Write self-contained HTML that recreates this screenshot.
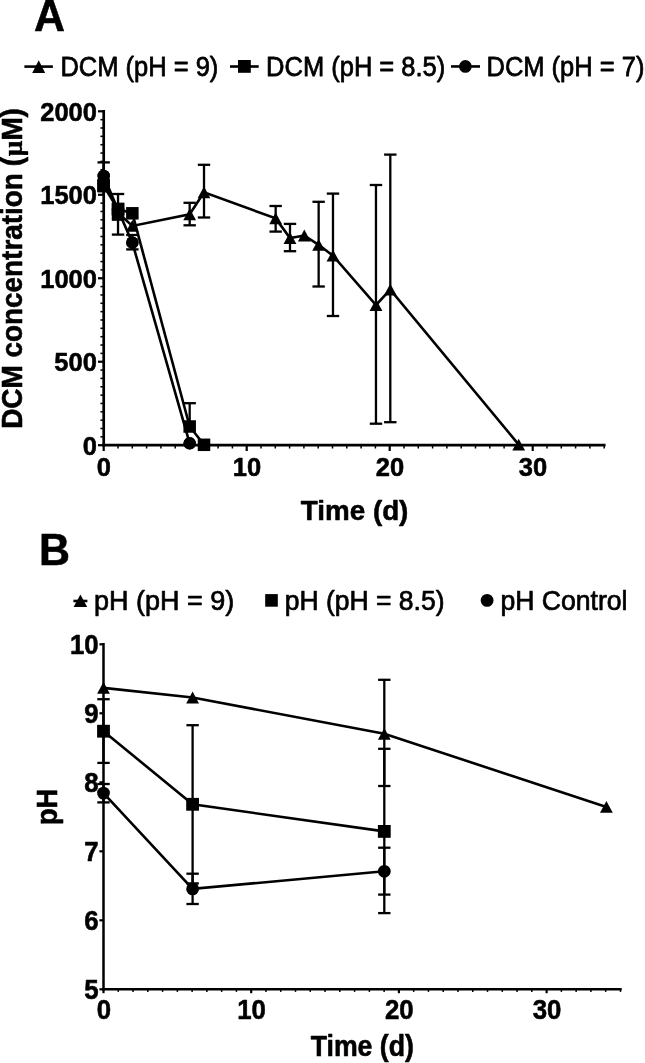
<!DOCTYPE html>
<html><head><meta charset="utf-8"><title>Figure</title>
<style>
html,body{margin:0;padding:0;background:#fff;}
body{width:645px;height:1063px;overflow:hidden;font-family:"Liberation Sans",sans-serif;}
svg{display:block;font-family:"Liberation Sans",sans-serif;filter:blur(0.35px);}
</style></head><body>
<svg width="645" height="1063" viewBox="0 0 645 1063" fill="#000" stroke="#000" stroke-linecap="butt">
<rect x="0" y="0" width="645" height="1063" fill="#fff" stroke="none"/>
<text transform="translate(34.00,30.80) scale(1,1.04)" font-size="42.9" font-weight="bold" text-anchor="start" stroke="#000" stroke-width="0.55" stroke-linejoin="round">A</text>
<line x1="24.40" y1="66.60" x2="52.90" y2="66.60" stroke-width="2.6"/>
<polygon points="38.70,60.30 45.20,72.90 32.20,72.90" stroke="none"/>
<text transform="translate(60.40,75.50) scale(1,1.09)" font-size="25.5" font-weight="normal" text-anchor="start" stroke="#000" stroke-width="0.7" stroke-linejoin="round">DCM (pH = 9)</text>
<line x1="230.00" y1="66.50" x2="258.70" y2="66.50" stroke-width="2.6"/>
<rect x="238.00" y="60.00" width="12.8" height="12.8" stroke="none"/>
<text transform="translate(266.10,75.50) scale(1,1.09)" font-size="25.5" font-weight="normal" text-anchor="start" stroke="#000" stroke-width="0.7" stroke-linejoin="round">DCM (pH = 8.5)</text>
<line x1="451.00" y1="66.45" x2="480.00" y2="66.45" stroke-width="2.6"/>
<circle cx="465.40" cy="66.45" r="6.35" stroke="none"/>
<text transform="translate(486.50,75.50) scale(1,1.09)" font-size="25.5" font-weight="normal" text-anchor="start" stroke="#000" stroke-width="0.7" stroke-linejoin="round">DCM (pH = 7)</text>
<line x1="103.70" y1="109.95" x2="103.70" y2="446.55" stroke-width="2.7"/>
<line x1="102.35" y1="445.20" x2="605.55" y2="445.20" stroke-width="2.7"/>
<line x1="98.00" y1="445.20" x2="103.70" y2="445.20" stroke-width="2.2"/>
<line x1="100.40" y1="436.85" x2="103.70" y2="436.85" stroke-width="1.5"/>
<line x1="100.40" y1="428.50" x2="103.70" y2="428.50" stroke-width="1.5"/>
<line x1="100.40" y1="420.16" x2="103.70" y2="420.16" stroke-width="1.5"/>
<line x1="100.40" y1="411.81" x2="103.70" y2="411.81" stroke-width="1.5"/>
<line x1="100.40" y1="403.46" x2="103.70" y2="403.46" stroke-width="1.5"/>
<line x1="100.40" y1="395.12" x2="103.70" y2="395.12" stroke-width="1.5"/>
<line x1="100.40" y1="386.77" x2="103.70" y2="386.77" stroke-width="1.5"/>
<line x1="100.40" y1="378.42" x2="103.70" y2="378.42" stroke-width="1.5"/>
<line x1="100.40" y1="370.07" x2="103.70" y2="370.07" stroke-width="1.5"/>
<line x1="98.00" y1="361.73" x2="103.70" y2="361.73" stroke-width="2.2"/>
<line x1="100.40" y1="353.38" x2="103.70" y2="353.38" stroke-width="1.5"/>
<line x1="100.40" y1="345.03" x2="103.70" y2="345.03" stroke-width="1.5"/>
<line x1="100.40" y1="336.68" x2="103.70" y2="336.68" stroke-width="1.5"/>
<line x1="100.40" y1="328.33" x2="103.70" y2="328.33" stroke-width="1.5"/>
<line x1="100.40" y1="319.99" x2="103.70" y2="319.99" stroke-width="1.5"/>
<line x1="100.40" y1="311.64" x2="103.70" y2="311.64" stroke-width="1.5"/>
<line x1="100.40" y1="303.29" x2="103.70" y2="303.29" stroke-width="1.5"/>
<line x1="100.40" y1="294.94" x2="103.70" y2="294.94" stroke-width="1.5"/>
<line x1="100.40" y1="286.60" x2="103.70" y2="286.60" stroke-width="1.5"/>
<line x1="98.00" y1="278.25" x2="103.70" y2="278.25" stroke-width="2.2"/>
<line x1="100.40" y1="269.90" x2="103.70" y2="269.90" stroke-width="1.5"/>
<line x1="100.40" y1="261.56" x2="103.70" y2="261.56" stroke-width="1.5"/>
<line x1="100.40" y1="253.21" x2="103.70" y2="253.21" stroke-width="1.5"/>
<line x1="100.40" y1="244.86" x2="103.70" y2="244.86" stroke-width="1.5"/>
<line x1="100.40" y1="236.51" x2="103.70" y2="236.51" stroke-width="1.5"/>
<line x1="100.40" y1="228.16" x2="103.70" y2="228.16" stroke-width="1.5"/>
<line x1="100.40" y1="219.82" x2="103.70" y2="219.82" stroke-width="1.5"/>
<line x1="100.40" y1="211.47" x2="103.70" y2="211.47" stroke-width="1.5"/>
<line x1="100.40" y1="203.12" x2="103.70" y2="203.12" stroke-width="1.5"/>
<line x1="98.00" y1="194.78" x2="103.70" y2="194.78" stroke-width="2.2"/>
<line x1="100.40" y1="186.43" x2="103.70" y2="186.43" stroke-width="1.5"/>
<line x1="100.40" y1="178.08" x2="103.70" y2="178.08" stroke-width="1.5"/>
<line x1="100.40" y1="169.73" x2="103.70" y2="169.73" stroke-width="1.5"/>
<line x1="100.40" y1="161.38" x2="103.70" y2="161.38" stroke-width="1.5"/>
<line x1="100.40" y1="153.04" x2="103.70" y2="153.04" stroke-width="1.5"/>
<line x1="100.40" y1="144.69" x2="103.70" y2="144.69" stroke-width="1.5"/>
<line x1="100.40" y1="136.34" x2="103.70" y2="136.34" stroke-width="1.5"/>
<line x1="100.40" y1="128.00" x2="103.70" y2="128.00" stroke-width="1.5"/>
<line x1="100.40" y1="119.65" x2="103.70" y2="119.65" stroke-width="1.5"/>
<line x1="98.00" y1="111.30" x2="103.70" y2="111.30" stroke-width="2.2"/>
<text transform="translate(96.90,454.60) scale(1,1.04)" font-size="25.5" font-weight="bold" text-anchor="end" stroke="#000" stroke-width="0.55" stroke-linejoin="round">0</text>
<text transform="translate(96.90,371.12) scale(1,1.04)" font-size="25.5" font-weight="bold" text-anchor="end" stroke="#000" stroke-width="0.55" stroke-linejoin="round">500</text>
<text transform="translate(96.90,287.65) scale(1,1.04)" font-size="25.5" font-weight="bold" text-anchor="end" stroke="#000" stroke-width="0.55" stroke-linejoin="round">1000</text>
<text transform="translate(96.90,204.18) scale(1,1.04)" font-size="25.5" font-weight="bold" text-anchor="end" stroke="#000" stroke-width="0.55" stroke-linejoin="round">1500</text>
<text transform="translate(96.90,120.70) scale(1,1.04)" font-size="25.5" font-weight="bold" text-anchor="end" stroke="#000" stroke-width="0.55" stroke-linejoin="round">2000</text>
<line x1="103.70" y1="445.20" x2="103.70" y2="451.00" stroke-width="2.2"/>
<line x1="118.00" y1="445.20" x2="118.00" y2="448.50" stroke-width="1.5"/>
<line x1="132.30" y1="445.20" x2="132.30" y2="448.50" stroke-width="1.5"/>
<line x1="146.60" y1="445.20" x2="146.60" y2="448.50" stroke-width="1.5"/>
<line x1="160.90" y1="445.20" x2="160.90" y2="448.50" stroke-width="1.5"/>
<line x1="175.20" y1="445.20" x2="175.20" y2="448.50" stroke-width="1.5"/>
<line x1="189.50" y1="445.20" x2="189.50" y2="448.50" stroke-width="1.5"/>
<line x1="203.80" y1="445.20" x2="203.80" y2="448.50" stroke-width="1.5"/>
<line x1="218.10" y1="445.20" x2="218.10" y2="448.50" stroke-width="1.5"/>
<line x1="232.40" y1="445.20" x2="232.40" y2="448.50" stroke-width="1.5"/>
<line x1="246.70" y1="445.20" x2="246.70" y2="451.00" stroke-width="2.2"/>
<line x1="261.00" y1="445.20" x2="261.00" y2="448.50" stroke-width="1.5"/>
<line x1="275.30" y1="445.20" x2="275.30" y2="448.50" stroke-width="1.5"/>
<line x1="289.60" y1="445.20" x2="289.60" y2="448.50" stroke-width="1.5"/>
<line x1="303.90" y1="445.20" x2="303.90" y2="448.50" stroke-width="1.5"/>
<line x1="318.20" y1="445.20" x2="318.20" y2="448.50" stroke-width="1.5"/>
<line x1="332.50" y1="445.20" x2="332.50" y2="448.50" stroke-width="1.5"/>
<line x1="346.80" y1="445.20" x2="346.80" y2="448.50" stroke-width="1.5"/>
<line x1="361.10" y1="445.20" x2="361.10" y2="448.50" stroke-width="1.5"/>
<line x1="375.40" y1="445.20" x2="375.40" y2="448.50" stroke-width="1.5"/>
<line x1="389.70" y1="445.20" x2="389.70" y2="451.00" stroke-width="2.2"/>
<line x1="404.00" y1="445.20" x2="404.00" y2="448.50" stroke-width="1.5"/>
<line x1="418.30" y1="445.20" x2="418.30" y2="448.50" stroke-width="1.5"/>
<line x1="432.60" y1="445.20" x2="432.60" y2="448.50" stroke-width="1.5"/>
<line x1="446.90" y1="445.20" x2="446.90" y2="448.50" stroke-width="1.5"/>
<line x1="461.20" y1="445.20" x2="461.20" y2="448.50" stroke-width="1.5"/>
<line x1="475.50" y1="445.20" x2="475.50" y2="448.50" stroke-width="1.5"/>
<line x1="489.80" y1="445.20" x2="489.80" y2="448.50" stroke-width="1.5"/>
<line x1="504.10" y1="445.20" x2="504.10" y2="448.50" stroke-width="1.5"/>
<line x1="518.40" y1="445.20" x2="518.40" y2="448.50" stroke-width="1.5"/>
<line x1="532.70" y1="445.20" x2="532.70" y2="451.00" stroke-width="2.2"/>
<line x1="547.00" y1="445.20" x2="547.00" y2="448.50" stroke-width="1.5"/>
<line x1="561.30" y1="445.20" x2="561.30" y2="448.50" stroke-width="1.5"/>
<line x1="575.60" y1="445.20" x2="575.60" y2="448.50" stroke-width="1.5"/>
<line x1="589.90" y1="445.20" x2="589.90" y2="448.50" stroke-width="1.5"/>
<line x1="604.20" y1="445.20" x2="604.20" y2="448.50" stroke-width="1.5"/>
<text transform="translate(103.90,476.30) scale(1,1.04)" font-size="25.5" font-weight="bold" text-anchor="middle" stroke="#000" stroke-width="0.55" stroke-linejoin="round">0</text>
<text transform="translate(246.90,476.30) scale(1,1.04)" font-size="25.5" font-weight="bold" text-anchor="middle" stroke="#000" stroke-width="0.55" stroke-linejoin="round">10</text>
<text transform="translate(389.90,476.30) scale(1,1.04)" font-size="25.5" font-weight="bold" text-anchor="middle" stroke="#000" stroke-width="0.55" stroke-linejoin="round">20</text>
<text transform="translate(532.90,476.30) scale(1,1.04)" font-size="25.5" font-weight="bold" text-anchor="middle" stroke="#000" stroke-width="0.55" stroke-linejoin="round">30</text>
<text transform="translate(354.60,519.60) scale(1,1.02)" font-size="27.8" font-weight="bold" text-anchor="middle" stroke="#000" stroke-width="0.55" stroke-linejoin="round">Time (d)</text>
<text transform="translate(22.1,428.8) rotate(-90) scale(1,1.04)" font-size="27.9" font-weight="bold" text-anchor="start" stroke="#000" stroke-width="0.55" stroke-linejoin="round">DCM concentration</text>
<text transform="translate(22.1,166.3) rotate(-90) scale(1,1.04)" font-size="27.9" font-weight="bold" text-anchor="start" stroke="#000" stroke-width="0.55" stroke-linejoin="round">(</text>
<text transform="translate(22.1,156.3) rotate(-90) scale(1,1.0)" font-family="Liberation Serif" font-size="27.5" font-weight="bold" text-anchor="start" stroke="#000" stroke-width="0.3" stroke-linejoin="round">μ</text>
<text transform="translate(22.1,140.5) rotate(-90) scale(1,1.04)" font-size="27.9" font-weight="bold" text-anchor="start" stroke="#000" stroke-width="0.55" stroke-linejoin="round">M</text>
<text transform="translate(22.1,117.5) rotate(-90) scale(1,1.04)" font-size="27.9" font-weight="bold" text-anchor="start" stroke="#000" stroke-width="0.55" stroke-linejoin="round">)</text>
<polyline points="103.70,176.00 118.03,210.00 132.36,242.70 189.68,443.30" fill="none" stroke-width="2.6" stroke-linejoin="miter"/>
<polyline points="103.70,186.00 118.03,209.10 132.36,213.30 189.68,426.50 204.01,444.80" fill="none" stroke-width="2.6" stroke-linejoin="miter"/>
<polyline points="103.70,178.00 118.03,213.00 132.36,225.90 189.68,214.30 204.01,192.30 275.66,218.40 289.99,238.00 304.32,235.50 318.65,244.80 332.98,255.70 375.97,305.00 390.30,289.60 518.70,444.60" fill="none" stroke-width="2.6" stroke-linejoin="miter"/>
<line x1="103.70" y1="162.40" x2="103.70" y2="194.00" stroke-width="2.3"/>
<line x1="97.50" y1="162.40" x2="109.90" y2="162.40" stroke-width="2.3"/>
<line x1="118.03" y1="194.00" x2="118.03" y2="234.60" stroke-width="2.3"/>
<line x1="111.83" y1="194.00" x2="124.23" y2="194.00" stroke-width="2.3"/>
<line x1="111.83" y1="234.60" x2="124.23" y2="234.60" stroke-width="2.3"/>
<line x1="132.36" y1="235.00" x2="132.36" y2="249.40" stroke-width="2.3"/>
<line x1="126.16" y1="235.00" x2="138.56" y2="235.00" stroke-width="2.3"/>
<line x1="126.16" y1="249.40" x2="138.56" y2="249.40" stroke-width="2.3"/>
<line x1="189.68" y1="403.20" x2="189.68" y2="430.00" stroke-width="2.3"/>
<line x1="183.48" y1="403.20" x2="195.88" y2="403.20" stroke-width="2.3"/>
<line x1="189.68" y1="202.80" x2="189.68" y2="225.30" stroke-width="2.3"/>
<line x1="183.48" y1="202.80" x2="195.88" y2="202.80" stroke-width="2.3"/>
<line x1="183.48" y1="225.30" x2="195.88" y2="225.30" stroke-width="2.3"/>
<line x1="204.01" y1="164.80" x2="204.01" y2="217.50" stroke-width="2.3"/>
<line x1="197.81" y1="164.80" x2="210.21" y2="164.80" stroke-width="2.3"/>
<line x1="197.81" y1="217.50" x2="210.21" y2="217.50" stroke-width="2.3"/>
<line x1="275.66" y1="206.00" x2="275.66" y2="231.60" stroke-width="2.3"/>
<line x1="269.46" y1="206.00" x2="281.86" y2="206.00" stroke-width="2.3"/>
<line x1="269.46" y1="231.60" x2="281.86" y2="231.60" stroke-width="2.3"/>
<line x1="289.99" y1="223.90" x2="289.99" y2="251.20" stroke-width="2.3"/>
<line x1="283.79" y1="223.90" x2="296.19" y2="223.90" stroke-width="2.3"/>
<line x1="283.79" y1="251.20" x2="296.19" y2="251.20" stroke-width="2.3"/>
<line x1="318.65" y1="201.80" x2="318.65" y2="286.50" stroke-width="2.3"/>
<line x1="312.45" y1="201.80" x2="324.85" y2="201.80" stroke-width="2.3"/>
<line x1="312.45" y1="286.50" x2="324.85" y2="286.50" stroke-width="2.3"/>
<line x1="332.98" y1="193.60" x2="332.98" y2="316.00" stroke-width="2.3"/>
<line x1="326.78" y1="193.60" x2="339.18" y2="193.60" stroke-width="2.3"/>
<line x1="326.78" y1="316.00" x2="339.18" y2="316.00" stroke-width="2.3"/>
<line x1="375.97" y1="185.00" x2="375.97" y2="423.70" stroke-width="2.3"/>
<line x1="369.77" y1="185.00" x2="382.17" y2="185.00" stroke-width="2.3"/>
<line x1="369.77" y1="423.70" x2="382.17" y2="423.70" stroke-width="2.3"/>
<line x1="390.30" y1="154.60" x2="390.30" y2="422.20" stroke-width="2.3"/>
<line x1="384.10" y1="154.60" x2="396.50" y2="154.60" stroke-width="2.3"/>
<line x1="384.10" y1="422.20" x2="396.50" y2="422.20" stroke-width="2.3"/>
<circle cx="103.70" cy="176.00" r="6.2" stroke="none"/>
<circle cx="118.03" cy="210.00" r="6.2" stroke="none"/>
<circle cx="132.36" cy="242.70" r="6.2" stroke="none"/>
<circle cx="189.68" cy="443.30" r="6.2" stroke="none"/>
<polygon points="103.70,172.10 110.10,183.90 97.30,183.90" stroke="none"/>
<polygon points="118.03,207.10 124.43,218.90 111.63,218.90" stroke="none"/>
<polygon points="132.36,220.00 138.76,231.80 125.96,231.80" stroke="none"/>
<polygon points="189.68,208.40 196.08,220.20 183.28,220.20" stroke="none"/>
<polygon points="204.01,186.40 210.41,198.20 197.61,198.20" stroke="none"/>
<polygon points="275.66,212.50 282.06,224.30 269.26,224.30" stroke="none"/>
<polygon points="289.99,232.10 296.39,243.90 283.59,243.90" stroke="none"/>
<polygon points="304.32,229.60 310.72,241.40 297.92,241.40" stroke="none"/>
<polygon points="318.65,238.90 325.05,250.70 312.25,250.70" stroke="none"/>
<polygon points="332.98,249.80 339.38,261.60 326.58,261.60" stroke="none"/>
<polygon points="375.97,299.10 382.37,310.90 369.57,310.90" stroke="none"/>
<polygon points="390.30,283.70 396.70,295.50 383.90,295.50" stroke="none"/>
<polygon points="518.70,438.70 525.10,450.50 512.30,450.50" stroke="none"/>
<rect x="97.45" y="179.75" width="12.5" height="12.5" stroke="none"/>
<rect x="111.78" y="202.85" width="12.5" height="12.5" stroke="none"/>
<rect x="126.11" y="207.05" width="12.5" height="12.5" stroke="none"/>
<rect x="183.43" y="420.25" width="12.5" height="12.5" stroke="none"/>
<rect x="197.76" y="438.55" width="12.5" height="12.5" stroke="none"/>
<circle cx="132.36" cy="242.70" r="6.2" stroke="none"/>
<circle cx="189.68" cy="443.30" r="6.2" stroke="none"/>
<circle cx="103.70" cy="176.00" r="6.2" stroke="none"/>
<rect x="97.45" y="179.75" width="12.5" height="12.5" stroke="none"/>
<rect x="97.45" y="178.65" width="12.5" height="12.5" stroke="none"/>
<rect x="111.78" y="202.75" width="12.5" height="12.5" stroke="none"/>
<rect x="111.78" y="208.35" width="12.5" height="12.5" stroke="none"/>
<text transform="translate(39.00,565.30) scale(1,1.04)" font-size="42.9" font-weight="bold" text-anchor="start" stroke="#000" stroke-width="0.55" stroke-linejoin="round">B</text>
<line x1="73.40" y1="601.00" x2="87.40" y2="601.00" stroke-width="2.6"/>
<polygon points="80.40,594.50 87.20,606.90 73.60,606.90" stroke="none"/>
<text transform="translate(94.00,609.80) scale(1,1.04)" font-size="27.0" font-weight="normal" text-anchor="start" stroke="#000" stroke-width="0.7" stroke-linejoin="round">pH (pH = 9)</text>
<rect x="265.20" y="594.10" width="12.6" height="12.6" stroke="none"/>
<text transform="translate(284.80,609.80) scale(1,1.04)" font-size="26.5" font-weight="normal" text-anchor="start" stroke="#000" stroke-width="0.7" stroke-linejoin="round">pH (pH = 8.5)</text>
<circle cx="487.10" cy="600.40" r="6.4" stroke="none"/>
<text transform="translate(500.40,609.80) scale(1,1.04)" font-size="26.6" font-weight="normal" text-anchor="start" stroke="#000" stroke-width="0.7" stroke-linejoin="round">pH Control</text>
<line x1="103.50" y1="643.05" x2="103.50" y2="990.55" stroke-width="2.5"/>
<line x1="102.25" y1="989.30" x2="621.70" y2="989.30" stroke-width="2.5"/>
<line x1="99.40" y1="989.30" x2="103.50" y2="989.30" stroke-width="2.2"/>
<text transform="translate(98.60,998.70) scale(1,1.04)" font-size="25.8" font-weight="bold" text-anchor="end" stroke="#000" stroke-width="0.55" stroke-linejoin="round">5</text>
<line x1="99.40" y1="920.30" x2="103.50" y2="920.30" stroke-width="2.2"/>
<text transform="translate(98.60,929.70) scale(1,1.04)" font-size="25.8" font-weight="bold" text-anchor="end" stroke="#000" stroke-width="0.55" stroke-linejoin="round">6</text>
<line x1="99.40" y1="851.30" x2="103.50" y2="851.30" stroke-width="2.2"/>
<text transform="translate(98.60,860.70) scale(1,1.04)" font-size="25.8" font-weight="bold" text-anchor="end" stroke="#000" stroke-width="0.55" stroke-linejoin="round">7</text>
<line x1="99.40" y1="782.30" x2="103.50" y2="782.30" stroke-width="2.2"/>
<text transform="translate(98.60,791.70) scale(1,1.04)" font-size="25.8" font-weight="bold" text-anchor="end" stroke="#000" stroke-width="0.55" stroke-linejoin="round">8</text>
<line x1="99.40" y1="713.30" x2="103.50" y2="713.30" stroke-width="2.2"/>
<text transform="translate(98.60,722.70) scale(1,1.04)" font-size="25.8" font-weight="bold" text-anchor="end" stroke="#000" stroke-width="0.55" stroke-linejoin="round">9</text>
<line x1="99.40" y1="644.30" x2="103.50" y2="644.30" stroke-width="2.2"/>
<text transform="translate(98.60,653.70) scale(1,1.04)" font-size="25.8" font-weight="bold" text-anchor="end" stroke="#000" stroke-width="0.55" stroke-linejoin="round">10</text>
<line x1="103.50" y1="989.30" x2="103.50" y2="993.20" stroke-width="2.2"/>
<line x1="118.27" y1="989.30" x2="118.27" y2="991.90" stroke-width="1.5"/>
<line x1="133.04" y1="989.30" x2="133.04" y2="991.90" stroke-width="1.5"/>
<line x1="147.81" y1="989.30" x2="147.81" y2="991.90" stroke-width="1.5"/>
<line x1="162.58" y1="989.30" x2="162.58" y2="991.90" stroke-width="1.5"/>
<line x1="177.35" y1="989.30" x2="177.35" y2="991.90" stroke-width="1.5"/>
<line x1="192.12" y1="989.30" x2="192.12" y2="991.90" stroke-width="1.5"/>
<line x1="206.89" y1="989.30" x2="206.89" y2="991.90" stroke-width="1.5"/>
<line x1="221.66" y1="989.30" x2="221.66" y2="991.90" stroke-width="1.5"/>
<line x1="236.43" y1="989.30" x2="236.43" y2="991.90" stroke-width="1.5"/>
<line x1="251.20" y1="989.30" x2="251.20" y2="993.20" stroke-width="2.2"/>
<line x1="265.97" y1="989.30" x2="265.97" y2="991.90" stroke-width="1.5"/>
<line x1="280.74" y1="989.30" x2="280.74" y2="991.90" stroke-width="1.5"/>
<line x1="295.51" y1="989.30" x2="295.51" y2="991.90" stroke-width="1.5"/>
<line x1="310.28" y1="989.30" x2="310.28" y2="991.90" stroke-width="1.5"/>
<line x1="325.05" y1="989.30" x2="325.05" y2="991.90" stroke-width="1.5"/>
<line x1="339.82" y1="989.30" x2="339.82" y2="991.90" stroke-width="1.5"/>
<line x1="354.59" y1="989.30" x2="354.59" y2="991.90" stroke-width="1.5"/>
<line x1="369.36" y1="989.30" x2="369.36" y2="991.90" stroke-width="1.5"/>
<line x1="384.13" y1="989.30" x2="384.13" y2="991.90" stroke-width="1.5"/>
<line x1="398.90" y1="989.30" x2="398.90" y2="993.20" stroke-width="2.2"/>
<line x1="413.67" y1="989.30" x2="413.67" y2="991.90" stroke-width="1.5"/>
<line x1="428.44" y1="989.30" x2="428.44" y2="991.90" stroke-width="1.5"/>
<line x1="443.21" y1="989.30" x2="443.21" y2="991.90" stroke-width="1.5"/>
<line x1="457.98" y1="989.30" x2="457.98" y2="991.90" stroke-width="1.5"/>
<line x1="472.75" y1="989.30" x2="472.75" y2="991.90" stroke-width="1.5"/>
<line x1="487.52" y1="989.30" x2="487.52" y2="991.90" stroke-width="1.5"/>
<line x1="502.29" y1="989.30" x2="502.29" y2="991.90" stroke-width="1.5"/>
<line x1="517.06" y1="989.30" x2="517.06" y2="991.90" stroke-width="1.5"/>
<line x1="531.83" y1="989.30" x2="531.83" y2="991.90" stroke-width="1.5"/>
<line x1="546.60" y1="989.30" x2="546.60" y2="993.20" stroke-width="2.2"/>
<line x1="561.37" y1="989.30" x2="561.37" y2="991.90" stroke-width="1.5"/>
<line x1="576.14" y1="989.30" x2="576.14" y2="991.90" stroke-width="1.5"/>
<line x1="590.91" y1="989.30" x2="590.91" y2="991.90" stroke-width="1.5"/>
<line x1="605.68" y1="989.30" x2="605.68" y2="991.90" stroke-width="1.5"/>
<line x1="620.45" y1="989.30" x2="620.45" y2="991.90" stroke-width="1.5"/>
<text transform="translate(103.90,1018.80) scale(1,1.04)" font-size="25.8" font-weight="bold" text-anchor="middle" stroke="#000" stroke-width="0.55" stroke-linejoin="round">0</text>
<text transform="translate(251.60,1018.80) scale(1,1.04)" font-size="25.8" font-weight="bold" text-anchor="middle" stroke="#000" stroke-width="0.55" stroke-linejoin="round">10</text>
<text transform="translate(399.30,1018.80) scale(1,1.04)" font-size="25.8" font-weight="bold" text-anchor="middle" stroke="#000" stroke-width="0.55" stroke-linejoin="round">20</text>
<text transform="translate(547.00,1018.80) scale(1,1.04)" font-size="25.8" font-weight="bold" text-anchor="middle" stroke="#000" stroke-width="0.55" stroke-linejoin="round">30</text>
<text transform="translate(362.30,1055.50) scale(1,1.09)" font-size="26.7" font-weight="bold" text-anchor="middle" stroke="#000" stroke-width="0.55" stroke-linejoin="round">Time (d)</text>
<text transform="translate(56.50,806.90) rotate(-90) scale(1,1.09)" font-size="27.0" font-weight="bold" text-anchor="middle" stroke="#000" stroke-width="0.55" stroke-linejoin="round">pH</text>
<polyline points="103.50,687.90 192.60,697.50 384.30,733.80 606.40,806.90" fill="none" stroke-width="2.6" stroke-linejoin="miter"/>
<polyline points="103.50,731.20 192.60,804.30 384.30,831.40" fill="none" stroke-width="2.6" stroke-linejoin="miter"/>
<polyline points="103.50,793.10 192.60,888.90 384.30,871.30" fill="none" stroke-width="2.6" stroke-linejoin="miter"/>
<line x1="103.50" y1="699.20" x2="103.50" y2="762.90" stroke-width="2.3"/>
<line x1="97.30" y1="699.20" x2="109.70" y2="699.20" stroke-width="2.3"/>
<line x1="97.30" y1="762.90" x2="109.70" y2="762.90" stroke-width="2.3"/>
<line x1="103.50" y1="784.00" x2="103.50" y2="802.40" stroke-width="2.3"/>
<line x1="97.30" y1="784.00" x2="109.70" y2="784.00" stroke-width="2.3"/>
<line x1="97.30" y1="802.40" x2="109.70" y2="802.40" stroke-width="2.3"/>
<line x1="192.60" y1="725.20" x2="192.60" y2="883.40" stroke-width="2.3"/>
<line x1="186.40" y1="725.20" x2="198.80" y2="725.20" stroke-width="2.3"/>
<line x1="186.40" y1="883.40" x2="198.80" y2="883.40" stroke-width="2.3"/>
<line x1="192.60" y1="873.70" x2="192.60" y2="904.00" stroke-width="2.3"/>
<line x1="186.40" y1="873.70" x2="198.80" y2="873.70" stroke-width="2.3"/>
<line x1="186.40" y1="904.00" x2="198.80" y2="904.00" stroke-width="2.3"/>
<line x1="384.30" y1="679.80" x2="384.30" y2="786.00" stroke-width="2.3"/>
<line x1="378.10" y1="679.80" x2="390.50" y2="679.80" stroke-width="2.3"/>
<line x1="378.10" y1="786.00" x2="390.50" y2="786.00" stroke-width="2.3"/>
<line x1="384.30" y1="748.80" x2="384.30" y2="913.10" stroke-width="2.3"/>
<line x1="378.10" y1="748.80" x2="390.50" y2="748.80" stroke-width="2.3"/>
<line x1="378.10" y1="913.10" x2="390.50" y2="913.10" stroke-width="2.3"/>
<line x1="384.30" y1="847.70" x2="384.30" y2="894.60" stroke-width="2.3"/>
<line x1="378.10" y1="847.70" x2="390.50" y2="847.70" stroke-width="2.3"/>
<line x1="378.10" y1="894.60" x2="390.50" y2="894.60" stroke-width="2.3"/>
<polygon points="103.50,682.00 109.90,693.80 97.10,693.80" stroke="none"/>
<polygon points="192.60,691.60 199.00,703.40 186.20,703.40" stroke="none"/>
<polygon points="384.30,727.90 390.70,739.70 377.90,739.70" stroke="none"/>
<polygon points="606.40,801.00 612.80,812.80 600.00,812.80" stroke="none"/>
<rect x="97.10" y="724.80" width="12.8" height="12.8" stroke="none"/>
<rect x="186.20" y="797.90" width="12.8" height="12.8" stroke="none"/>
<rect x="377.90" y="825.00" width="12.8" height="12.8" stroke="none"/>
<circle cx="103.50" cy="793.10" r="6.4" stroke="none"/>
<circle cx="192.60" cy="888.90" r="6.4" stroke="none"/>
<circle cx="384.30" cy="871.30" r="6.4" stroke="none"/>
</svg>
</body></html>
